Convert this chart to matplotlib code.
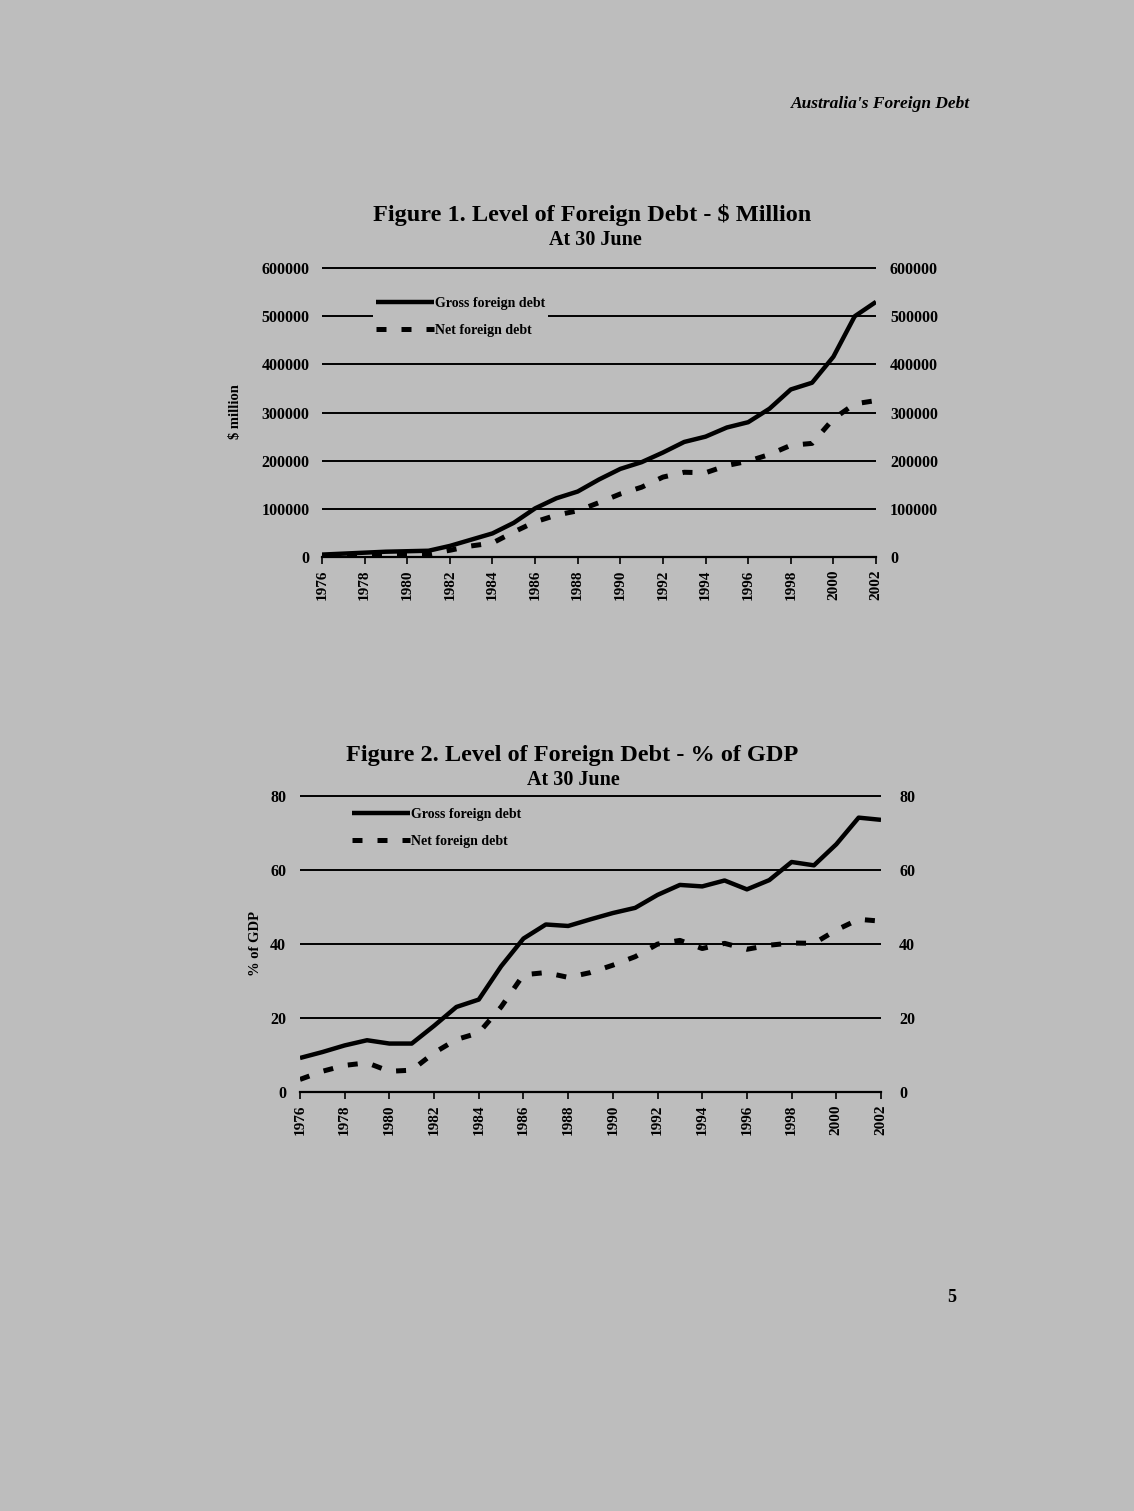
import matplotlib
matplotlib.use("Agg")
import matplotlib.pyplot as plt

years = list(range(1976, 2003))

# Figure 1: $ million
gross_mil = [5000, 7000, 9000, 11000, 12000, 13000, 23000, 36000, 49000, 71000,
             101000, 122000, 136000, 161000, 183000, 197000, 217000, 239000, 250000,
             269000, 280000, 308000, 348000, 362000, 416000, 500000, 530000]
net_mil = [2000, 3000, 4000, 5000, 5500, 6000, 14000, 23000, 29000, 52000,
           73000, 87000, 96000, 113000, 131000, 145000, 166000, 176000, 175000,
           190000, 199000, 213000, 232000, 236000, 287000, 318000, 325000]

# Figure 2: % of GDP
gross_gdp = [9.2, 10.8, 12.6, 14.0, 13.1, 13.1, 17.9, 23.0, 25.0, 34.0,
             41.5, 45.3, 44.9, 46.7, 48.4, 49.8, 53.3, 56.0, 55.6, 57.2,
             54.8, 57.3, 62.2, 61.3, 67.0, 74.2, 73.6]
net_gdp = [3.4, 5.6, 7.2, 7.9, 5.6, 5.9, 10.6, 14.2, 16.0, 23.0,
           31.7, 32.3, 31.0, 32.3, 34.3, 36.6, 40.0, 41.0, 38.8, 40.2,
           38.6, 39.7, 40.3, 40.2, 43.8, 46.7, 46.2]

year_ticks = list(range(1976, 2003, 2))
mil_ticks = [0, 100000, 200000, 300000, 400000, 500000, 600000]
gdp_ticks = [0, 20, 40, 60, 80]

BG = "#bdbdbd"
W, H = 1134, 1511
plt.rcParams['font.family'] = ['Liberation Serif', 'DejaVu Serif']
plt.rcParams['font.weight'] = 'bold'

fig = plt.figure(figsize=(W / 100, H / 100), dpi=100, facecolor=BG)


def px_axes(left, right, top, bottom):
    return fig.add_axes([left / W, 1 - bottom / H, (right - left) / W, (bottom - top) / H])


def draw_chart(ax, gross, net, yticks, ymax, pad_l, pad_r, legend_xy):
    ax.set_facecolor("none")
    ax.plot(years, gross, color="black", lw=3.2, solid_capstyle="butt", label="Gross foreign debt")
    ax.plot(years, net, color="black", lw=3.6, dashes=(2.0, 3.0), label="Net foreign debt")
    ax.set_xlim(1976, 2002)
    ax.set_ylim(0, ymax * 1.004)
    ax.set_xticks(year_ticks)
    ax.set_xticklabels([str(y) for y in year_ticks], rotation=90, fontsize=11, fontweight="bold")
    ax.set_yticks(yticks)
    ax.set_yticklabels([str(t) for t in yticks], fontsize=11.5, fontweight="bold")
    ax.tick_params(axis="y", length=0, pad=pad_l)
    ax.tick_params(axis="x", length=5, width=1.2, direction="out", pad=4)
    ax.grid(axis="y", color="black", lw=1.4)
    ax.set_axisbelow(True)
    for s in ["top", "right", "left"]:
        ax.spines[s].set_visible(False)
    ax.spines["bottom"].set_linewidth(1.6)

    ax2 = ax.twinx()
    ax2.set_ylim(0, ymax * 1.004)
    ax2.set_yticks(yticks)
    ax2.set_yticklabels([str(t) for t in yticks], fontsize=11.5, fontweight="bold")
    ax2.tick_params(axis="y", length=0, pad=pad_r)
    for s in ax2.spines.values():
        s.set_visible(False)

    ax.legend(loc="upper left", bbox_to_anchor=legend_xy, frameon=True,
              facecolor=BG, edgecolor="none", framealpha=1.0,
              handlelength=4.2, handletextpad=0.05, labelspacing=1.0,
              borderpad=0.2, prop={"size": 10, "weight": "bold"})
    return ax2


# Figure 1
ax1 = px_axes(322, 876, 267, 557)
draw_chart(ax1, gross_mil, net_mil, mil_ticks, 600000, 9, 10, (0.08, 0.93))
ax1.set_ylabel("$ million", fontsize=10.5, fontweight="bold", labelpad=14)
fig.text(592 / W, 1 - 215 / H, "Figure 1. Level of Foreign Debt - $ Million",
         ha="center", va="center", fontsize=17.5, fontweight="bold")
fig.text(595 / W, 1 - 240 / H, "At 30 June", ha="center", va="center",
         fontsize=14.5, fontweight="bold")

# Figure 2
ax3 = px_axes(300, 881, 795, 1092)
draw_chart(ax3, gross_gdp, net_gdp, gdp_ticks, 80, 10, 13, (0.072, 0.99))
ax3.set_ylabel("% of GDP", fontsize=10.5, fontweight="bold", labelpad=6)
fig.text(572 / W, 1 - 755 / H, "Figure 2. Level of Foreign Debt - % of GDP",
         ha="center", va="center", fontsize=17.5, fontweight="bold")
fig.text(573 / W, 1 - 780 / H, "At 30 June", ha="center", va="center",
         fontsize=14.5, fontweight="bold")

# page furniture
fig.text(970 / W, 1 - 104 / H, "Australia's Foreign Debt", ha="right", va="center",
         fontsize=12.5, fontweight="bold", style="italic")
fig.text(952 / W, 1 - 1298 / H, "5", ha="center", va="center", fontsize=13, fontweight="bold")

fig.savefig("out.png", dpi=100, facecolor=BG)
